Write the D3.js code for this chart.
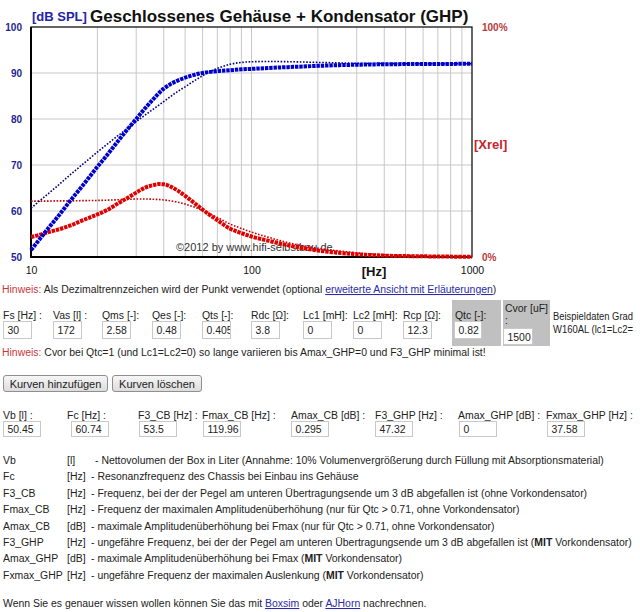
<!DOCTYPE html>
<html><head><meta charset="utf-8">
<script src="https://cdn.jsdelivr.net/npm/d3@7"></script>
<style>
body{margin:0;background:#fff;}
svg{display:block;font-family:"Liberation Sans",Arial,sans-serif;}
</style></head><body>
<svg id="page" width="640" height="612"></svg>
<script>
// ---- chart data ----
const freqs   = [10,11,12,13,15,17,20,22,25,28,30,33,36,38,40,43,46,50,55,60,70,80,90,100,120,150,200,250,300,400,600,1000];
const splGHP  = [51.5,54.0,56.3,58.3,62.1,65.3,69.6,72.0,75.4,78.3,80.0,82.4,84.4,85.6,86.6,87.6,88.3,89.0,89.6,90.0,90.4,90.6,90.8,90.9,91.1,91.3,91.55,91.7,91.8,91.9,91.95,92.0];
const splCB   = [60.6,62.3,63.8,65.2,67.8,70.0,72.8,74.4,76.5,78.3,79.4,80.9,82.2,83.0,83.8,84.9,85.9,87.0,88.3,89.4,91.0,91.9,92.3,92.45,92.5,92.45,92.3,92.2,92.1,92.05,92.0,92.0];
const xrelGHP = [8.7,9.7,10.8,11.7,13.6,15.8,18.5,20.3,23.5,26.2,28.0,30.2,31.3,31.7,31.6,30.6,29.0,26.6,23.5,20.6,16.0,12.3,10.4,8.9,7.0,4.9,2.8,1.8,1.2,0.6,0.3,0.1];
const xrelCB  = [24.3,24.3,24.3,24.4,24.4,24.5,24.6,24.7,24.9,25.1,25.2,25.2,25.1,25.0,24.8,24.4,23.9,23.0,21.7,20.2,17.2,14.3,12.4,10.8,8.5,6.0,3.8,2.6,1.8,1.0,0.5,0.2];
const dbTicks   = [50,60,70,80,90,100];
const dbGrid    = [60,70,80,90];
const freqTicks = [10,100,1000];
const freqGrid  = [20,30,40,50,60,70,80,90,100,200,300,400,500,600,700,800,900];
const pctTicks  = [0,100];

// ---- form data ----
const paramLabels = ["Fs [Hz] :","Vas [l] :","Qms [-]:","Qes [-]:","Qts [-]:","Rdc [Ω]:","Lc1 [mH]:","Lc2 [mH]:","Rcp [Ω]:"];
const paramValues = ["30","172","2.58","0.48","0.405","3.8","0","0","12.3"];
const paramX      = [3,53,102,152,202,251,303,353,403];
const resultLabels = ["Vb [l] :","Fc [Hz] :","F3_CB [Hz] :","Fmax_CB [Hz] :","Amax_CB [dB] :","F3_GHP [Hz] :","Amax_GHP [dB] :","Fxmax_GHP [Hz] :"];
const resultValues = ["50.45","60.74","53.5","119.96","0.295","47.32","0","37.58"];
const resultLabelX = [3,67,138,202,291,375,458,546];
const resultBoxX   = [3,71,139,203,291,375,459,547];
const defNames = ["Vb","Fc","F3_CB","Fmax_CB","Amax_CB","F3_GHP","Amax_GHP","Fxmax_GHP"];
const defUnits = ["[l]","[Hz]","[Hz]","[Hz]","[dB]","[Hz]","[dB]","[Hz]"];
const defTexts = [
 [["- Nettovolumen der Box in Liter (Annahme: 10% Volumenvergrößerung durch Füllung mit Absorptionsmaterial)",0]],
 [["- Resonanzfrequenz des Chassis bei Einbau ins Gehäuse",0]],
 [["- Frequenz, bei der der Pegel am unteren Übertragungsende um 3 dB abgefallen ist (ohne Vorkondensator)",0]],
 [["- Frequenz der maximalen Amplitudenüberhöhung (nur für Qtc > 0.71, ohne Vorkondensator)",0]],
 [["- maximale Amplitudenüberhöhung bei Fmax (nur für Qtc > 0.71, ohne Vorkondensator)",0]],
 [["- ungefähre Frequenz, bei der der Pegel am unteren Übertragungsende um 3 dB abgefallen ist (",0],["MIT",1],[" Vorkondensator)",0]],
 [["- maximale Amplitudenüberhöhung bei Fmax (",0],["MIT",1],[" Vorkondensator)",0]],
 [["- ungefähre Frequenz der maximalen Auslenkung (",0],["MIT",1],[" Vorkondensator)",0]]
];

const svg = d3.select("#page");
const TXT = "#222";
const LINK = "#2b2ba8";
const HINT = "#c8383a";

// ---- chart ----
const x = d3.scaleLog().domain([10,1000]).range([31,472]);
const y = d3.scaleLinear().domain([50,100]).range([257,27]);
const yPct = d3.scaleLinear().domain([0,100]).range([257,27]);

const g = svg.append("g");
g.selectAll(".vg").data(freqGrid).join("line")
  .attr("x1",d=>x(d)).attr("x2",d=>x(d)).attr("y1",27).attr("y2",257)
  .attr("stroke","#c8c8c8").attr("stroke-width",1);
g.selectAll(".hg").data(dbGrid).join("line")
  .attr("x1",31).attr("x2",472).attr("y1",d=>y(d)).attr("y2",d=>y(d))
  .attr("stroke","#c8c8c8").attr("stroke-width",1);

g.append("text").attr("x",176).attr("y",251).attr("font-size",11).attr("fill","#333")
  .text("©2012 by www.hifi-selbstbau.de");

g.append("rect").attr("x",31).attr("y",27).attr("width",441).attr("height",230)
  .attr("fill","none").attr("stroke","#000").attr("stroke-width",1.2);
g.append("line").attr("x1",31).attr("x2",31).attr("y1",27).attr("y2",258).attr("stroke","#000").attr("stroke-width",2);
g.append("line").attr("x1",30).attr("x2",472).attr("y1",257).attr("y2",257).attr("stroke","#000").attr("stroke-width",2);

const rows = freqs.map((f,i)=>({f, a:splGHP[i], b:splCB[i], c:xrelGHP[i], d:xrelCB[i]}));
const mk = acc => d3.line().x(d=>x(d.f)).y(acc).curve(d3.curveMonotoneX);

g.append("path").attr("d",mk(d=>yPct(d.d))(rows)).attr("fill","none")
  .attr("stroke","#c80000").attr("stroke-width",1.6).attr("stroke-dasharray","1.6,1.6");
g.append("path").attr("d",mk(d=>yPct(d.c))(rows)).attr("fill","none")
  .attr("stroke","#e00000").attr("stroke-width",4).attr("stroke-dasharray","3.4,0.9");
g.append("path").attr("d",mk(d=>y(d.b))(rows)).attr("fill","none")
  .attr("stroke","#00007a").attr("stroke-width",1.6).attr("stroke-dasharray","1.6,1.6");
g.append("path").attr("d",mk(d=>y(d.a))(rows)).attr("fill","none")
  .attr("stroke","#0000cc").attr("stroke-width",4).attr("stroke-dasharray","3.4,0.9");

// axes
const ya = g.append("g").attr("transform","translate(31,0)")
  .call(d3.axisLeft(y).tickValues(dbTicks).tickSize(0).tickPadding(9).tickFormat(d3.format("d")));
ya.select(".domain").remove();
ya.selectAll("text").attr("font-size",10).attr("font-weight","bold").attr("fill","#1f1f96")
  .attr("font-family","Liberation Sans, Arial, sans-serif");

const xa = g.append("g").attr("transform","translate(0,257)")
  .call(d3.axisBottom(x).tickValues(freqTicks).tickSize(0).tickPadding(10).tickFormat(d3.format("d")));
xa.select(".domain").remove();
xa.selectAll("text").attr("font-size",10.5).attr("fill","#111")
  .attr("font-family","Liberation Sans, Arial, sans-serif");

const ra = g.append("g").attr("transform","translate(472,0)")
  .call(d3.axisRight(yPct).tickValues(pctTicks).tickSize(0).tickPadding(10).tickFormat(d=>d+"%"));
ra.select(".domain").remove();
ra.selectAll("text").attr("font-size",10).attr("font-weight","bold").attr("fill","#b83a3a")
  .attr("font-family","Liberation Sans, Arial, sans-serif");

g.append("text").attr("x",32).attr("y",21).attr("font-size",13).attr("font-weight","bold")
  .attr("fill","#2323a8").text("[dB SPL]");
g.append("text").attr("x",90).attr("y",22).attr("font-size",17).attr("font-weight","bold")
  .attr("fill","#111").text("Geschlossenes Gehäuse + Kondensator (GHP)");
g.append("text").attr("x",374).attr("y",276).attr("text-anchor","middle").attr("font-size",13)
  .attr("font-weight","bold").attr("fill","#111").text("[Hz]");
g.append("text").attr("x",474).attr("y",149).attr("font-size",13)
  .attr("font-weight","bold").attr("fill","#c4262b").text("[Xrel]");

// ---- form ----
const f = svg.append("g").attr("font-size",10.45).attr("fill",TXT);

function line(xp, yp, parts){
  const t = f.append("text").attr("x",xp).attr("y",yp);
  parts.forEach(p=>{
    const s = t.append("tspan").text(p.t);
    if(p.c) s.attr("fill",p.c);
    if(p.u) s.attr("text-decoration","underline");
    if(p.b) s.attr("font-weight","bold");
  });
  return t;
}
let clipId = 0;
function box(xp, yp, w, h, val){
  const id = "clip"+(clipId++);
  svg.append("clipPath").attr("id",id).append("rect").attr("x",xp+1).attr("y",yp).attr("width",w-1).attr("height",h);
  f.append("rect").attr("x",xp+0.5).attr("y",yp+0.5).attr("width",w).attr("height",h)
    .attr("fill","#fff").attr("stroke","#c9c9c9");
  f.append("text").attr("x",xp+4.5).attr("y",yp+h/2+4.5).attr("clip-path","url(#"+id+")").text(val);
}

line(2,293,[{t:"Hinweis:",c:HINT},{t:" Als Dezimaltrennzeichen wird der Punkt verwendet (optional "},
  {t:"erweiterte Ansicht mit Erläuterungen",c:LINK,u:1},{t:")"}]);

// grey boxes
f.append("rect").attr("x",452).attr("y",300).attr("width",49).attr("height",46).attr("fill","#c0c0c0");
f.append("rect").attr("x",503).attr("y",300).attr("width",47).attr("height",46).attr("fill","#c0c0c0");

paramLabels.forEach((l,i)=>{
  line(paramX[i],319,[{t:l}]);
  box(paramX[i],321,28,17,paramValues[i]);
});
line(455,319,[{t:"Qtc [-]:"}]);
box(454,321,27,17,"0.82");
line(505,312,[{t:"Cvor [uF]"}]).attr("textLength",43).attr("lengthAdjust","spacingAndGlyphs");
line(505,324,[{t:":"}]);
box(503,328,29,16,"1500");
line(553,320,[{t:"Beispieldaten Grad"}]).attr("font-size",10).attr("textLength",80).attr("lengthAdjust","spacingAndGlyphs");
line(553,333,[{t:"W160AL (lc1=Lc2="}]).attr("font-size",10).attr("textLength",80).attr("lengthAdjust","spacingAndGlyphs");

line(2,356,[{t:"Hinweis:",c:HINT},{t:" Cvor bei Qtc=1 (und Lc1=Lc2=0) so lange variieren bis Amax_GHP=0 und F3_GHP minimal ist!"}]);

// buttons
const grad = svg.append("defs").append("linearGradient").attr("id","btn").attr("x1",0).attr("x2",0).attr("y1",0).attr("y2",1);
grad.append("stop").attr("offset","0").attr("stop-color","#f7f7f7");
grad.append("stop").attr("offset","1").attr("stop-color","#dcdcdc");
[[3,104,"Kurven hinzufügen"],[112,89,"Kurven löschen"]].forEach(b=>{
  f.append("rect").attr("x",b[0]+0.5).attr("y",375.5).attr("width",b[1]).attr("height",16).attr("rx",2.5)
    .attr("fill","url(#btn)").attr("stroke","#8f8f8f");
  f.append("text").attr("x",b[0]+b[1]/2+0.5).attr("y",387.5).attr("text-anchor","middle").attr("font-size",11).text(b[2]);
});

resultLabels.forEach((l,i)=>{
  line(resultLabelX[i],419,[{t:l}]);
  box(resultBoxX[i],421,37,15,resultValues[i]);
});

defNames.forEach((n,i)=>{
  const yy = 464 + i*16.4;
  line(3,yy,[{t:n}]);
  line(67,yy,[{t:defUnits[i]}]);
  const parts = defTexts[i].map(p=>({t:p[0],b:p[1]}));
  line(i===0?95:91,yy,parts);
});

line(3,607,[{t:"Wenn Sie es genauer wissen wollen können Sie das mit "},{t:"Boxsim",c:LINK,u:1},
  {t:" oder "},{t:"AJHorn",c:LINK,u:1},{t:" nachrechnen."}]);
</script>
</body></html>
